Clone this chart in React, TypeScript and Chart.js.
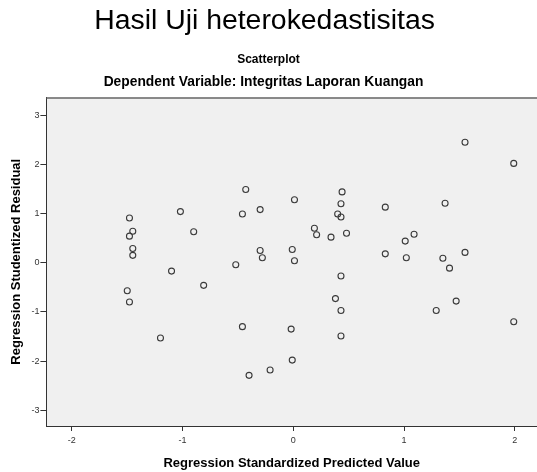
import React, { useEffect, useRef } from "react";
import { Chart, registerables } from "chart.js";

Chart.register(...registerables);

const mainTitle = "Hasil Uji heterokedastisitas\u00a0";
const chartTitle = "Scatterplot";
const chartSubtitle = "Dependent Variable: Integritas Laporan Kuangan";
const xAxisTitle = "Regression Standardized Predicted Value";
const yAxisTitle = "Regression Studentized Residual";

const xTicks = [-2, -1, 0, 1, 2];
const yTicks = [-3, -2, -1, 0, 1, 2, 3];

const predictedValues = [
  -0.43, 0.01, -1.48, -1.02, -0.46, -0.3, -1.45, -1.48, -0.9, 0.19,
  0.21, -1.45, -1.45, -0.3, -0.28, -0.01, 0.01, 1.55, 1.99, 0.44,
  0.43, 0.4, 0.43, 0.83, 1.37, 0.34, 0.48, 1.09, 1.01, 0.83,
  1.02, 1.35, 1.55, -1.1, -0.52, -0.81, -1.5, -1.48, -0.46, -0.02,
  -1.2, -0.01, -0.21, -0.4, 1.41, 0.43, 0.38, 0.43, 1.29, 1.47,
  1.99, 0.43,
];
const residualValues = [
  1.49, 1.28, 0.91, 1.04, 0.99, 1.08, 0.64, 0.54, 0.63, 0.7,
  0.57, 0.29, 0.15, 0.25, 0.1, 0.27, 0.04, 2.45, 2.02, 1.44,
  1.2, 0.99, 0.93, 1.13, 1.21, 0.52, 0.6, 0.58, 0.44, 0.18,
  0.1, 0.09, 0.21, -0.17, -0.04, -0.46, -0.57, -0.8, -1.3, -1.35,
  -1.53, -1.98, -2.18, -2.29, -0.11, -0.27, -0.73, -0.97, -0.97, -0.78,
  -1.2, -1.49,
];

const FONT = "'Liberation Sans', Arial, Helvetica, sans-serif";

const plotDecor = {
  id: "plotDecor",
  beforeDraw(chart: any) {
    const { ctx, chartArea } = chart;
    ctx.save();
    ctx.fillStyle = "#f0f0f0";
    ctx.fillRect(chartArea.left, chartArea.top, chartArea.right - chartArea.left, chartArea.bottom - chartArea.top);
    ctx.restore();
  },
  afterDraw(chart: any) {
    const { ctx, chartArea } = chart;
    ctx.save();
    ctx.strokeStyle = "#666";
    ctx.lineWidth = 1.5;
    ctx.beginPath();
    ctx.moveTo(chartArea.left, chartArea.top + 0.5);
    ctx.lineTo(chartArea.right, chartArea.top + 0.5);
    ctx.stroke();
    ctx.fillStyle = "#000";
    ctx.font = `bold 13.8px ${FONT}`;
    ctx.textAlign = "center";
    ctx.textBaseline = "middle";
    ctx.fillText(chartSubtitle, chart.width / 2 - 5, chartArea.top - 15);
    ctx.restore();
  },
};

export default function App() {
  const ref = useRef<HTMLCanvasElement | null>(null);

  useEffect(() => {
    if (!ref.current) return;
    const points = predictedValues.map((x, i) => ({ x, y: residualValues[i] }));
    const chart = new Chart(ref.current, {
      type: "scatter",
      data: {
        datasets: [
          {
            data: points,
            pointStyle: "circle",
            pointRadius: 3,
            pointBorderWidth: 1.1,
            pointBorderColor: "#3a3a3a",
            pointBackgroundColor: "rgba(0,0,0,0)",
          },
        ],
      },
      options: {
        responsive: false,
        animation: false,
        events: [],
        layout: { autoPadding: false, padding: { left: 0, right: 0, top: 0, bottom: 0 } },
        plugins: {
          legend: { display: false },
          tooltip: { enabled: false },
          title: {
            display: true,
            text: mainTitle,
            color: "#000",
            font: { family: FONT, size: 28.4, weight: "normal", lineHeight: 1.2 },
            padding: { top: 4, bottom: 10 },
          },
          subtitle: {
            display: true,
            text: chartTitle,
            color: "#000",
            font: { family: FONT, size: 12, weight: "bold", lineHeight: 1.2 },
            padding: { top: 4.5, bottom: 30.5 },
          },
        },
        scales: {
          x: {
            type: "linear",
            position: "bottom",
            min: -2.23,
            max: 2.2,
            afterBuildTicks: (s: any) => {
              s.ticks = xTicks.map((v) => ({ value: v }));
            },
            ticks: {
              font: { family: FONT, size: 9 },
              color: "#333",
              padding: 4.5,
              maxRotation: 0,
              callback: (v: any) => String(v),
            },
            grid: { drawOnChartArea: false, drawTicks: true, tickLength: 5, color: "#333", lineWidth: 1 },
            border: { display: true, color: "#333", width: 1 },
            title: {
              display: true,
              text: xAxisTitle,
              color: "#000",
              font: { family: FONT, size: 13, weight: "bold", lineHeight: 1.2 },
              padding: { top: 4.4, bottom: 1.2 },
            },
          },
          y: {
            type: "linear",
            position: "left",
            min: -3.32,
            max: 3.36,
            afterBuildTicks: (s: any) => {
              s.ticks = yTicks.map((v) => ({ value: v }));
            },
            ticks: {
              font: { family: FONT, size: 9 },
              color: "#333",
              padding: 1,
              callback: (v: any) => String(v),
            },
            grid: { drawOnChartArea: false, drawTicks: true, tickLength: 6, color: "#333", lineWidth: 1 },
            border: { display: true, color: "#333", width: 1 },
            title: {
              display: true,
              text: yAxisTitle,
              color: "#000",
              font: { family: FONT, size: 13, weight: "bold", lineHeight: 1.2 },
              padding: { top: 8.3, bottom: 6.5 },
            },
          },
        },
      },
      plugins: [plotDecor],
    });
    return () => chart.destroy();
  }, []);

  return (
    <div style={{ position: "absolute", left: 0, top: 0, width: 537, height: 472 }}>
      <canvas ref={ref} width={537} height={472} style={{ display: "block" }} />
    </div>
  );
}
